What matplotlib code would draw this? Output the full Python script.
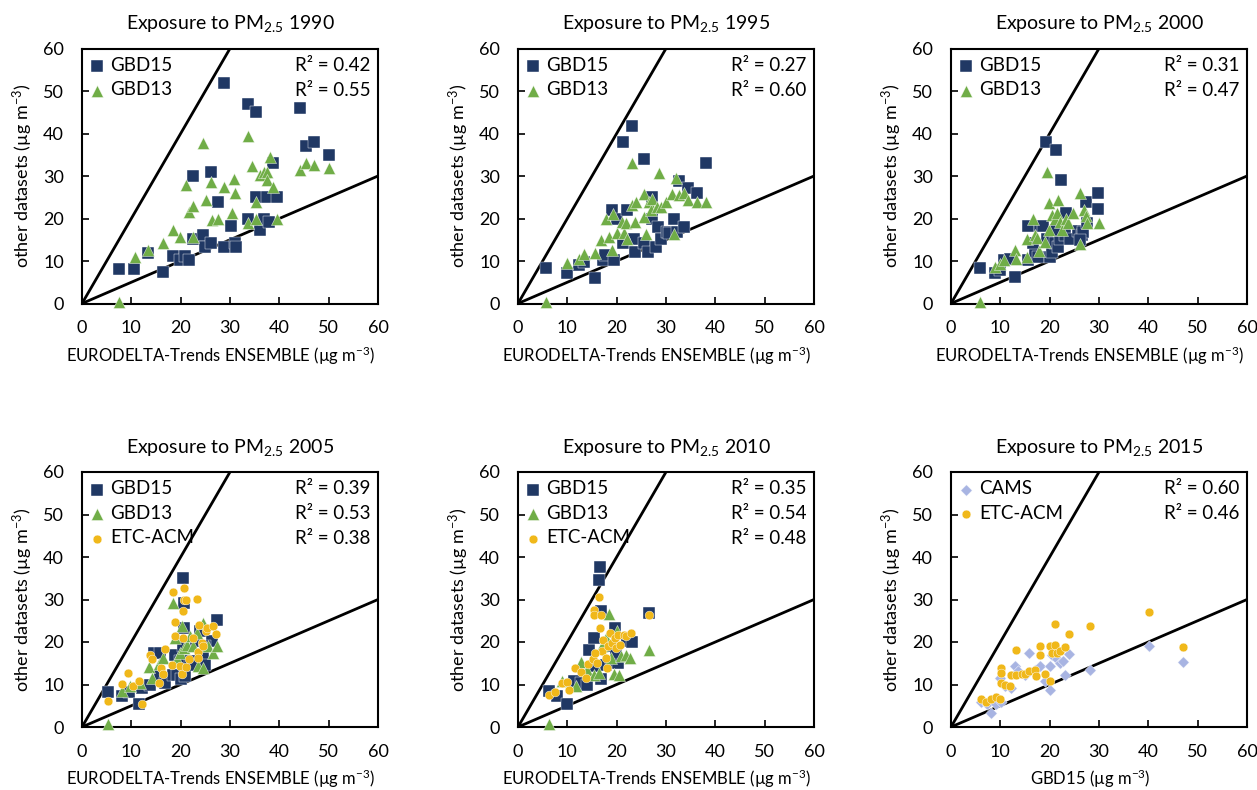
import matplotlib
matplotlib.use("Agg")
import matplotlib.pyplot as plt

plt.rcParams['font.family'] = ['Lato', 'DejaVu Sans']
plt.rcParams['mathtext.fontset'] = 'custom'
plt.rcParams['mathtext.rm'] = 'Lato'
plt.rcParams['mathtext.it'] = 'Lato:italic'
plt.rcParams['mathtext.bf'] = 'Lato:bold'

NAVY = '#203864'
GREEN = '#70AD47'
GOLD = '#F0B81A'
LAV = '#A8B4E2'

years = ['1990', '1995', '2000', '2005', '2010', '2015']

# ---- 1990 ----
x1990_gbd15 = [7.4, 10.5, 13.4, 16.5, 18.5, 19.9, 20.9, 21.6, 22.4, 22.5, 24.5, 24.9, 26.1, 26.1, 27.5,
               28.8, 28.8, 30.3, 31.0, 31.2, 33.7, 33.7, 35.3, 35.3, 36.1, 36.9, 37.4, 38.0, 38.7, 39.5,
               44.1, 45.5, 47.1, 50.1]
y1990_gbd15 = [8.1, 8.1, 11.8, 7.3, 11.2, 10.2, 11.2, 10.2, 30.0, 15.1, 16.1, 13.2, 14.2, 30.9, 24.0,
               52.0, 13.2, 18.2, 14.2, 13.2, 47.0, 20.0, 45.0, 25.0, 17.3, 20.0, 25.0, 19.2, 33.0, 25.0,
               46.0, 37.1, 37.9, 34.9]
x1990_gbd13 = [7.4, 10.7, 13.4, 16.4, 18.5, 19.9, 21.1, 21.6, 22.6, 22.6, 24.5, 25.1, 26.1, 26.3, 27.5,
               28.8, 30.5, 30.9, 31.0, 33.7, 33.7, 34.4, 35.3, 35.3, 36.1, 36.9, 37.6, 37.4, 38.1, 38.7,
               39.6, 44.1, 45.5, 47.1, 50.1]
y1990_gbd13 = [0.4, 11.0, 12.7, 14.2, 17.3, 15.7, 27.9, 21.6, 22.9, 15.6, 37.8, 24.4, 28.7, 19.6, 20.0,
               27.3, 21.3, 29.4, 25.9, 39.3, 19.0, 32.3, 24.0, 19.9, 30.2, 31.0, 30.9, 29.0, 34.4, 27.5,
               19.8, 31.3, 33.0, 32.7, 32.0]

# ---- 1995 ----
x1995_gbd15 = [5.6, 10.0, 12.4, 13.4, 15.6, 17.2, 17.6, 19.4, 19.1, 20.1, 21.3, 21.3, 22.1, 23.2, 23.5,
               23.8, 25.5, 25.5, 26.4, 27.1, 27.2, 27.9, 28.4, 28.9, 30.3, 30.6, 31.6, 32.3, 32.6, 33.6,
               34.5, 36.3, 38.2]
y1995_gbd15 = [8.3, 7.1, 9.1, 9.8, 6.1, 10.2, 11.4, 10.2, 22.0, 20.0, 37.9, 14.2, 22.0, 41.8, 15.1,
               12.2, 33.9, 14.2, 12.2, 25.1, 20.0, 13.2, 18.1, 15.1, 16.9, 16.7, 20.0, 16.9, 28.9, 18.1,
               27.1, 26.1, 33.0]
x1995_gbd13 = [5.6, 10.0, 12.4, 13.4, 15.6, 16.9, 18.4, 19.1, 17.9, 19.3, 20.0, 21.1, 21.5, 21.8, 22.0,
               23.2, 23.7, 24.0, 23.2, 25.5, 25.5, 25.9, 26.5, 26.9, 27.2, 28.6, 28.2, 29.0, 30.0, 31.3,
               31.6, 32.1, 32.6, 33.6, 34.5, 36.3, 38.2]
y1995_gbd13 = [0.4, 9.5, 10.4, 11.6, 12.0, 14.9, 15.6, 12.6, 19.8, 21.0, 16.7, 19.2, 16.5, 19.0, 15.1,
               23.2, 19.2, 24.0, 33.1, 25.7, 20.4, 16.3, 24.0, 22.0, 24.5, 30.6, 22.8, 22.8, 24.0, 25.7,
               16.3, 29.6, 25.5, 26.1, 24.4, 24.0, 23.8]

# ---- 2000 ----
x2000_gbd15 = [5.9, 8.9, 9.9, 10.7, 11.9, 13.0, 15.6, 15.6, 17.0, 16.6, 18.0, 18.7, 17.6, 19.2, 19.4,
               20.0, 20.4, 21.2, 21.0, 21.7, 22.1, 22.2, 23.1, 23.4, 24.1, 25.8, 26.6, 26.8, 27.3, 27.6,
               29.8, 29.8, 21.2, 26.1]
y2000_gbd15 = [8.3, 7.1, 7.9, 10.2, 10.4, 6.2, 10.2, 18.2, 12.2, 14.2, 18.2, 18.2, 11.0, 38.1, 15.1,
               11.0, 12.2, 36.1, 14.2, 13.4, 15.1, 29.1, 16.1, 21.2, 15.1, 17.1, 16.1, 16.9, 24.0, 19.0,
               26.1, 22.2, 17.3, 14.9]
x2000_gbd13 = [5.9, 8.9, 9.9, 10.7, 12.9, 13.2, 15.4, 15.4, 16.6, 17.0, 17.4, 17.8, 19.0, 19.5, 19.8,
               19.9, 20.4, 21.0, 21.4, 21.7, 22.0, 22.4, 23.4, 23.7, 24.7, 26.1, 26.1, 26.9, 27.3, 27.5,
               29.9]
y2000_gbd13 = [0.4, 8.5, 9.3, 10.2, 12.7, 10.4, 11.0, 15.1, 20.0, 16.1, 15.3, 12.4, 14.5, 31.0, 23.6,
               17.4, 20.8, 19.8, 21.4, 24.4, 19.2, 17.4, 20.0, 19.0, 21.4, 26.1, 14.0, 22.0, 20.6, 18.9,
               19.0]

# ---- 2005 ----
x2005_gbd15 = [5.3, 8.2, 9.6, 11.6, 12.1, 13.8, 14.5, 15.8, 15.8, 16.8, 18.5, 18.9, 19.3, 20.0, 20.5,
               20.7, 20.7, 20.5, 19.9, 20.9, 21.9, 22.6, 23.2, 23.9, 24.6, 24.9, 26.3, 27.3, 24.9]
y2005_gbd15 = [8.2, 7.3, 8.2, 5.3, 9.1, 10.0, 17.4, 17.4, 12.0, 10.4, 12.2, 17.0, 12.2, 11.2, 35.0,
               29.1, 23.3, 19.0, 15.5, 12.0, 15.5, 14.7, 20.2, 22.5, 16.6, 14.7, 20.2, 25.2, 19.0]
x2005_gbd13 = [5.3, 8.2, 9.7, 11.8, 13.5, 14.1, 15.7, 16.5, 18.5, 18.9, 19.2, 19.9, 20.2, 20.7, 21.2,
               21.9, 22.4, 23.4, 23.6, 24.5, 24.6, 25.6, 26.6, 27.3]
y2005_gbd13 = [0.6, 8.4, 9.6, 10.4, 14.1, 11.6, 14.8, 16.3, 29.1, 20.9, 16.0, 17.4, 23.7, 18.6, 19.4,
               21.3, 19.0, 22.1, 14.3, 24.5, 13.9, 19.0, 17.4, 19.0]
x2005_etc = [5.3, 8.2, 9.3, 10.3, 11.6, 12.1, 13.7, 14.1, 15.7, 16.1, 16.4, 16.8, 18.2, 18.5, 18.9,
             18.9, 19.9, 20.2, 20.4, 20.7, 20.7, 21.1, 20.5, 21.1, 21.6, 22.6, 23.4, 23.6, 23.6, 23.8,
             24.3, 24.6, 25.1, 25.3, 26.5, 27.2]
y2005_etc = [6.1, 10.2, 12.7, 9.6, 10.9, 5.3, 17.0, 15.9, 10.4, 13.9, 12.5, 18.4, 14.7, 31.7, 24.7,
             21.3, 14.3, 12.5, 27.2, 32.7, 29.9, 29.9, 20.9, 14.1, 15.9, 20.9, 30.2, 17.7, 16.3, 24.1,
             19.8, 19.0, 22.7, 23.3, 23.7, 21.9]

# ---- 2010 ----
x2010_gbd15 = [6.3, 8.0, 10.0, 11.3, 12.7, 14.0, 14.4, 15.4, 15.7, 16.7, 16.5, 16.9, 16.9, 17.8, 18.8,
               19.6, 20.3, 22.1, 23.2, 26.5, 18.4, 19.8]
y2010_gbd15 = [8.4, 7.3, 5.5, 10.9, 10.4, 10.0, 18.2, 20.9, 14.3, 37.7, 34.6, 27.2, 11.2, 14.7, 15.1,
               23.3, 15.1, 20.2, 20.0, 26.8, 19.0, 17.4]
x2010_gbd13 = [6.3, 9.0, 11.7, 12.7, 14.0, 15.4, 16.4, 17.1, 18.4, 18.8, 19.4, 20.1, 20.5, 20.8, 21.8,
               22.8, 26.5, 17.8]
y2010_gbd13 = [0.6, 10.8, 9.6, 15.3, 13.5, 12.3, 12.7, 19.0, 26.6, 16.3, 12.5, 22.5, 12.3, 16.6, 17.0,
               16.3, 18.2, 20.9]
x2010_etc = [6.3, 7.6, 9.0, 10.0, 10.3, 11.5, 12.7, 13.7, 14.2, 15.2, 15.4, 15.4, 16.1, 16.5, 16.7,
             16.9, 17.1, 17.2, 17.8, 18.1, 18.3, 18.6, 19.1, 19.6, 19.8, 20.3, 20.6, 21.5, 21.8, 23.0,
             26.5, 15.7]
y2010_etc = [7.5, 8.3, 10.4, 10.6, 8.8, 13.8, 13.0, 11.6, 14.8, 16.1, 27.6, 26.4, 15.1, 30.7, 23.3,
             26.4, 17.8, 20.5, 16.3, 13.9, 19.0, 22.1, 19.8, 20.9, 18.6, 21.7, 19.4, 21.7, 21.3, 22.1,
             26.4, 17.4]

# ---- 2015 (x = GBD15) ----
x2015_cams = [6.1, 7.2, 8.2, 9.2, 10.2, 9.9, 10.9, 12.2, 12.9, 13.6, 14.9, 15.9, 17.0, 18.0, 19.0,
              20.0, 20.0, 20.4, 21.4, 22.0, 22.7, 23.1, 23.9, 28.1, 40.1, 47.0]
y2015_cams = [5.9, 5.3, 3.4, 5.3, 5.9, 11.6, 9.6, 9.1, 14.3, 13.1, 12.3, 17.4, 13.3, 14.3, 10.8,
              14.3, 8.8, 17.0, 15.9, 15.1, 15.5, 12.2, 17.2, 13.5, 19.0, 15.3]
x2015_etc = [6.1, 7.0, 8.2, 9.2, 9.9, 10.1, 10.1, 10.1, 10.9, 11.9, 12.2, 13.1, 13.2, 14.3, 15.1,
             15.9, 17.0, 17.2, 18.0, 18.0, 19.0, 20.0, 20.0, 20.4, 21.0, 21.0, 21.4, 22.0, 23.1, 23.9,
             28.1, 40.1, 47.0]
y2015_etc = [6.5, 5.9, 6.5, 7.0, 6.5, 13.9, 12.7, 10.4, 10.0, 9.6, 12.2, 18.2, 12.3, 12.5, 12.5,
             13.1, 13.5, 12.0, 19.0, 17.0, 12.5, 19.0, 10.9, 17.4, 24.2, 19.4, 17.4, 17.8, 18.8, 21.9,
             23.8, 27.0, 18.8]

r2_1990 = ['0.42', '0.55']
r2_1995 = ['0.27', '0.60']
r2_2000 = ['0.31', '0.47']
r2_2005 = ['0.39', '0.53', '0.38']
r2_2010 = ['0.35', '0.54', '0.48']
r2_2015 = ['0.60', '0.46']

styles = {
    'GBD15': dict(marker='s', s=75, color=NAVY),
    'GBD13': dict(marker='^', s=75, color=GREEN),
    'ETC-ACM': dict(marker='o', s=40, color=GOLD),
    'CAMS': dict(marker='D', s=34, color=LAV),
}

panels = [
    ([('GBD15', x1990_gbd15, y1990_gbd15), ('GBD13', x1990_gbd13, y1990_gbd13)], r2_1990),
    ([('GBD15', x1995_gbd15, y1995_gbd15), ('GBD13', x1995_gbd13, y1995_gbd13)], r2_1995),
    ([('GBD15', x2000_gbd15, y2000_gbd15), ('GBD13', x2000_gbd13, y2000_gbd13)], r2_2000),
    ([('GBD15', x2005_gbd15, y2005_gbd15), ('GBD13', x2005_gbd13, y2005_gbd13),
      ('ETC-ACM', x2005_etc, y2005_etc)], r2_2005),
    ([('GBD15', x2010_gbd15, y2010_gbd15), ('GBD13', x2010_gbd13, y2010_gbd13),
      ('ETC-ACM', x2010_etc, y2010_etc)], r2_2010),
    ([('CAMS', x2015_cams, y2015_cams), ('ETC-ACM', x2015_etc, y2015_etc)], r2_2015),
]

W, H = 1257, 790
fig = plt.figure(figsize=(W / 100, H / 100), dpi=100)
lefts = [82, 518, 951]
tops = [48.5, 472]
aw, ah = 296, 255

for i, (series, r2) in enumerate(panels):
    col, row = i % 3, i // 3
    ax = fig.add_axes([lefts[col] / W, 1 - (tops[row] + ah) / H, aw / W, ah / H])
    ax.plot([0, 30], [0, 60], color='black', lw=2, zorder=1)
    ax.plot([0, 60], [0, 30], color='black', lw=2, zorder=1)
    for name, xs, ys in series:
        st = styles[name]
        ax.scatter(xs, ys, marker=st['marker'], s=st['s'], color=st['color'],
                   edgecolors='white', linewidths=0.3, label=name, zorder=3, clip_on=False)
    ax.set_xlim(0, 60)
    ax.set_ylim(0, 60)
    ax.set_xticks(range(0, 61, 10))
    ax.set_yticks(range(0, 61, 10))
    ax.tick_params(direction='in', length=5, width=1.2, labelsize=13, color='black')
    ax.tick_params(axis='x', pad=12)
    ax.tick_params(axis='y', pad=13)
    for sp in ax.spines.values():
        sp.set_linewidth(1.5)
    ax.set_title('Exposure to PM$_{2.5}$ ' + years[i], fontsize=14, pad=14)
    ax.set_ylabel('other datasets (µg m$^{-3}$)', fontsize=13, labelpad=6)
    if i == 5:
        ax.set_xlabel('GBD15 (µg m$^{-3}$)', fontsize=12, labelpad=6)
    else:
        ax.set_xlabel('EURODELTA-Trends ENSEMBLE (µg m$^{-3}$)', fontsize=12, labelpad=6)
    ax.xaxis.label.set_x(0.47)
    ax.legend(loc='upper left', frameon=False, fontsize=13.5, handlelength=0.7,
              handletextpad=0.35, labelspacing=0.4, borderaxespad=0.15, borderpad=0.3,
              scatterpoints=1)
    for k, v in enumerate(r2):
        ax.text(0.975, 0.935 - k * 0.098, 'R² = ' + v, transform=ax.transAxes,
                ha='right', va='center', fontsize=13.5)

fig.savefig('out.png', dpi=100)
